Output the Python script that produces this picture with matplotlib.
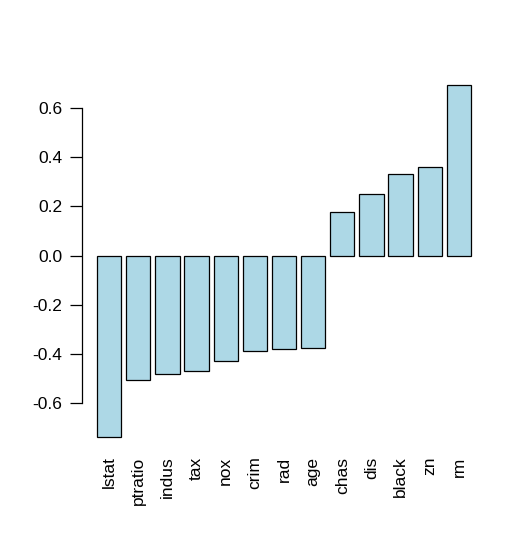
import matplotlib
matplotlib.use("Agg")
import matplotlib.pyplot as plt

features = ['lstat', 'ptratio', 'indus', 'tax', 'nox', 'crim', 'rad', 'age',
            'chas', 'dis', 'black', 'zn', 'rm']
corr = [-0.7377, -0.5078, -0.4837, -0.4685, -0.4273, -0.3883, -0.3816, -0.3770,
        0.1753, 0.2499, 0.3335, 0.3604, 0.6954]
yticks = [-0.6, -0.4, -0.2, 0.0, 0.2, 0.4, 0.6]

plt.rcParams['font.family'] = ['Liberation Sans', 'DejaVu Sans']

fig = plt.figure(figsize=(5.29, 5.41), dpi=100)
ax = fig.add_axes([0.155, 0.1664, 0.7637, 0.7033])

# R barplot layout: width 1, space 0.2
x = [0.7 + 1.2 * i for i in range(len(corr))]
ax.bar(x, corr, width=1.0, color='#ADD8E6', edgecolor='black', linewidth=0.9)

span = 15.4
ax.set_xlim(0.2 - 0.04 * span, 15.6 + 0.04 * span)
yr = max(corr) - min(corr)
ax.set_ylim(min(corr) - 0.04 * yr, max(corr) + 0.04 * yr)

ax.set_xticks(x)
ax.set_xticklabels(features, rotation=90, fontsize=12.5)
ax.tick_params(axis='x', length=0, pad=4)

ax.set_yticks(yticks)
ax.set_yticklabels([f"{v:.1f}" for v in yticks], fontsize=12.5)
ax.tick_params(axis='y', length=9, width=0.9, pad=5)

for s in ['top', 'right', 'bottom']:
    ax.spines[s].set_visible(False)
ax.spines['left'].set_bounds(-0.6, 0.6)
ax.spines['left'].set_linewidth(0.9)

fig.savefig('out.png', dpi=100)
